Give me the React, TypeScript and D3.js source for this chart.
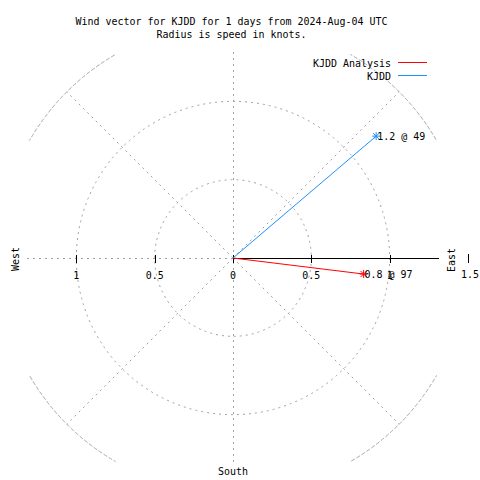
import React from "react";
import * as d3 from "d3";

const titleLines = ["Wind vector for KJDD for 1 days from 2024-Aug-04 UTC", "Radius is speed in knots."];
const seriesNames = ["KJDD Analysis", "KJDD"];
const seriesColors = ["#ff0000", "#1e90ff"];
const speeds = [0.84, 1.2];
const directions = [97, 49.6];
const pointLabels = ["0.8 @ 97", "1.2 @ 49"];
const gridRadii = [0.5, 1.0];
const outerRadius = 1.5;
const tickValues = [-1, -0.5, 0, 0.5, 1];
const tickLabels = ["1", "0.5", "0", "0.5", "1"];
const diagAngles = [45, 135, 225, 315];

const W = 480, H = 480;
const cx = 233, cy = 258;
const FONT = "'DejaVu Sans Mono', 'Liberation Mono', monospace";
const CW = 6;

function T({ x, y, s, anchor = "start", rotate }: { x: number; y: number; s: string; anchor?: string; rotate?: number }) {
  return (
    <text
      x={rotate ? 0 : x}
      y={rotate ? 0 : y}
      transform={rotate ? `translate(${x},${y}) rotate(${rotate})` : undefined}
      textAnchor={anchor as any}
      fontFamily={FONT}
      fontSize={11}
      textLength={s.length * CW}
      lengthAdjust="spacingAndGlyphs"
      fill="#000"
    >
      {s}
    </text>
  );
}

export default function App() {
  const r = d3.scaleLinear().domain([0, outerRadius]).range([0, 235]);
  const axisExt = 1.315;
  const gray = "#a0a0a0";
  const dash = "2,4";
  const pol = (speed: number, dir: number) => {
    const a = (dir * Math.PI) / 180;
    return [cx + r(speed) * Math.sin(a), cy - r(speed) * Math.cos(a)];
  };
  const arcGen = d3.arc();
  const outerArcs = [0, 90, 180, 270].map((q) =>
    arcGen({
      innerRadius: r(outerRadius),
      outerRadius: r(outerRadius),
      startAngle: ((q + 30) * Math.PI) / 180,
      endAngle: ((q + 60) * Math.PI) / 180,
    } as any)
  );
  const star = (x: number, y: number, c: string, k: number) => {
    const s = 4;
    return (
      <g key={"s" + k} stroke={c} strokeWidth={1}>
        <line x1={x - s} y1={y} x2={x + s} y2={y} />
        <line x1={x} y1={y - s} x2={x} y2={y + s} />
        <line x1={x - s * 0.75} y1={y - s * 0.75} x2={x + s * 0.75} y2={y + s * 0.75} />
        <line x1={x - s * 0.75} y1={y + s * 0.75} x2={x + s * 0.75} y2={y - s * 0.75} />
      </g>
    );
  };
  return (
    <svg width={W} height={H} style={{ position: "absolute", left: 0, top: 0, background: "#fff" }}>
      <rect x={0} y={0} width={W} height={H} fill="#fff" />
      {/* grid */}
      <g fill="none" stroke={gray} strokeWidth={1} strokeDasharray={dash}>
        {gridRadii.map((g, i) => (
          <circle key={i} cx={cx} cy={cy} r={r(g)} />
        ))}
        {outerArcs.map((d, i) => (
          <path key={"a" + i} d={d as string} transform={`translate(${cx},${cy})`} />
        ))}
        {diagAngles.map((a, i) => {
          const [x2, y2] = pol(outerRadius, a);
          return <line key={"d" + i} x1={cx} y1={cy} x2={x2} y2={y2} />;
        })}
        <line x1={cx + 0.5} y1={cy - r(axisExt)} x2={cx + 0.5} y2={cy + r(axisExt)} />
        <line x1={cx - r(axisExt)} y1={cy + 0.5} x2={cx} y2={cy + 0.5} />
      </g>
      {/* radial axis */}
      <g shapeRendering="crispEdges" stroke="#000" strokeWidth={1}>
        <line x1={cx} y1={cy + 0.5} x2={cx + r(axisExt)} y2={cy + 0.5} />
        {tickValues.map((t, i) => {
          const x = Math.round(cx + r(t)) + 0.5;
          return <line key={"t" + i} x1={x} y1={cy - 3.5} x2={x} y2={cy + 4.5} />;
        })}
        <line x1={Math.round(cx + r(outerRadius)) + 0.5} y1={cy - 4} x2={Math.round(cx + r(outerRadius)) + 0.5} y2={cy + 5} />
      </g>
      {tickValues.map((t, i) => (
        <T key={"tl" + i} x={cx + r(t)} y={279} s={tickLabels[i]} anchor="middle" />
      ))}
      <T x={cx + r(outerRadius) + 2} y={278} s="1.5" anchor="middle" />
      {/* compass labels */}
      <T x={19} y={cy + 1} s="West" anchor="middle" rotate={-90} />
      <T x={455} y={cy + 2} s="East" anchor="middle" rotate={-90} />
      <T x={cx} y={475} s="South" anchor="middle" />
      {/* vectors */}
      {speeds.map((sp, i) => {
        const [x, y] = pol(sp, directions[i]);
        return (
          <g key={"v" + i}>
            <line x1={cx} y1={cy} x2={x} y2={y} stroke={seriesColors[i]} strokeWidth={1} />
            {star(x, y, seriesColors[i], i)}
            <T x={x + 1} y={y + 4} s={pointLabels[i]} />
          </g>
        );
      })}
      {/* title */}
      <T x={231.5} y={24.5} s={titleLines[0]} anchor="middle" />
      <T x={231.5} y={38} s={titleLines[1]} anchor="middle" />
      {/* legend */}
      {seriesNames.map((n, i) => (
        <g key={"l" + i}>
          <T x={391} y={67 + i * 13} s={n} anchor="end" />
          <line x1={398} y1={62.5 + i * 13} x2={427} y2={62.5 + i * 13} stroke={seriesColors[i]} strokeWidth={1} />
        </g>
      ))}
    </svg>
  );
}
